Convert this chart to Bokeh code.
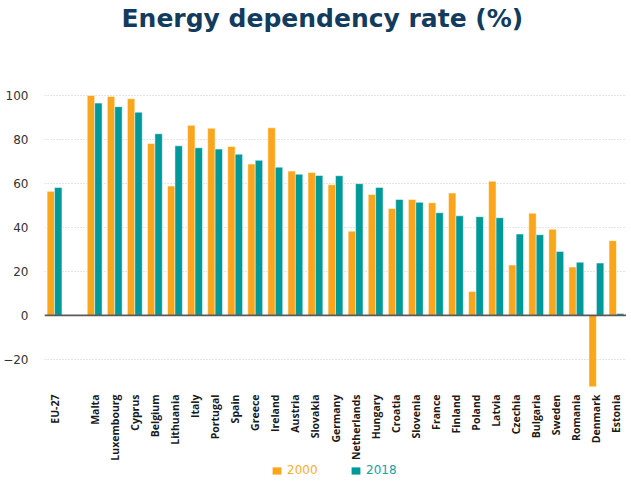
import math
from bokeh.plotting import figure
from bokeh.layouts import column
from bokeh.models import FactorRange, Range1d, Span, Legend, LegendItem, ColumnDataSource, FixedTicker
from bokeh.transform import dodge
from bokeh.embed import file_html
from bokeh.resources import INLINE

countries = ["EU-27", " ", "Malta", "Luxembourg", "Cyprus", "Belgium", "Lithuania", "Italy",
             "Portugal", "Spain", "Greece", "Ireland", "Austria", "Slovakia", "Germany",
             "Netherlands", "Hungary", "Croatia", "Slovenia", "France", "Finland", "Poland",
             "Latvia", "Czechia", "Bulgaria", "Sweden", "Romania", "Denmark", "Estonia"]
v2000 = [56.4, float("nan"), 100.0, 99.5, 98.5, 78.2, 58.8, 86.4, 85.1, 76.8, 68.8, 85.3, 65.6,
         65.0, 59.4, 38.3, 55.0, 48.6, 52.7, 51.2, 55.6, 10.9, 61.0, 22.9, 46.5, 39.2, 22.0,
         -35.4, 34.0]
v2018 = [58.2, float("nan"), 96.5, 94.9, 92.4, 82.6, 77.1, 76.2, 75.6, 73.3, 70.5, 67.4, 64.2,
         63.6, 63.5, 59.9, 58.2, 52.7, 51.4, 46.7, 45.3, 44.9, 44.4, 37.0, 36.7, 29.1, 24.2,
         23.8, 0.9]
y_ticks = [-20, 0, 20, 40, 60, 80, 100]
series = ["2000", "2018"]

ORANGE = "#F9A61C"
TEAL = "#009999"
ORANGE_TXT = "#F9AE2C"
TEAL_TXT = "#1A9E9F"

src = ColumnDataSource(dict(cat=countries, a=v2000, b=v2018))
xr = FactorRange(*countries, range_padding=0)

p = figure(x_range=xr, y_range=Range1d(-32.3, 128.6),
           output_backend="svg", toolbar_location=None,
           frame_width=582, frame_height=354,
           min_border_left=33, min_border_right=0, min_border_top=32, min_border_bottom=0)

p.title.text = "Energy dependency rate (%)"
p.title.align = "left"
p.title.offset = 77
p.title.text_font = "DejaVu Sans"
p.title.text_font_style = "bold"
p.title.text_font_size = "25px"
p.title.text_color = "#123B5E"
p.title.standoff = 0

r1 = p.vbar(x=dodge("cat", -0.185, range=xr), top="a", bottom=0, width=0.37,
            source=src, fill_color=ORANGE, line_color="white", line_width=0.5)
r2 = p.vbar(x=dodge("cat", 0.185, range=xr), top="b", bottom=0, width=0.37,
            source=src, fill_color=TEAL, line_color="white", line_width=0.5)

p.add_layout(Span(location=0, dimension="width", line_color="#5a5a5a", line_width=1.8))

p.outline_line_color = None
p.xgrid.grid_line_color = None
p.ygrid.grid_line_color = "#c8c8c8"
p.ygrid.grid_line_dash = "1 2"
p.ygrid.ticker = FixedTicker(ticks=y_ticks)

p.yaxis.ticker = FixedTicker(ticks=y_ticks)
p.yaxis.axis_line_color = None
p.yaxis.major_tick_line_color = None
p.yaxis.minor_tick_line_color = None
p.yaxis.major_label_text_font = "DejaVu Sans"
p.yaxis.major_label_text_font_size = "12px"
p.yaxis.major_label_text_color = "#333333"
p.yaxis.major_label_standoff = 10

p.xaxis.axis_line_color = None
p.xaxis.major_tick_line_color = None
p.xaxis.minor_tick_line_color = None
p.xaxis.major_label_orientation = math.pi / 2
p.xaxis.major_label_text_font = "Open Sans"
p.xaxis.major_label_text_font_style = "bold"
p.xaxis.major_label_text_font_size = "10.5px"
p.xaxis.major_label_text_color = "#1a1a1a"
p.xaxis.major_label_standoff = 2

# legend strip below the chart (its bars lie outside its y range, only the legend shows)
q = figure(x_range=xr, y_range=Range1d(200, 201), output_backend="svg",
           toolbar_location=None, width=615, height=14,
           min_border_left=0, min_border_right=0, min_border_top=0, min_border_bottom=0,
           x_axis_location=None, y_axis_location=None)
q.grid.grid_line_color = None
q.outline_line_color = None
l1 = q.vbar(x=dodge("cat", -0.185, range=xr), top="a", bottom=0, width=0.37,
            source=src, fill_color=ORANGE, line_color=None)
l2 = q.vbar(x=dodge("cat", 0.185, range=xr), top="b", bottom=0, width=0.37,
            source=src, fill_color=TEAL, line_color=None)

for item, color, x in ((LegendItem(label=series[0], renderers=[l1]), ORANGE_TXT, 227),
                       (LegendItem(label=series[1], renderers=[l2]), TEAL_TXT, 306)):
    lg = Legend(items=[item], location=(x, 0), orientation="horizontal",
                label_text_color=color, label_text_font="DejaVu Sans", label_text_font_size="12px",
                glyph_width=11, glyph_height=9, padding=0, margin=0, spacing=0,
                label_standoff=5, border_line_color=None, background_fill_alpha=0)
    q.add_layout(lg, "center")

layout = column(p, q, spacing=0)
open("out.html", "w").write(file_html(layout, INLINE))
